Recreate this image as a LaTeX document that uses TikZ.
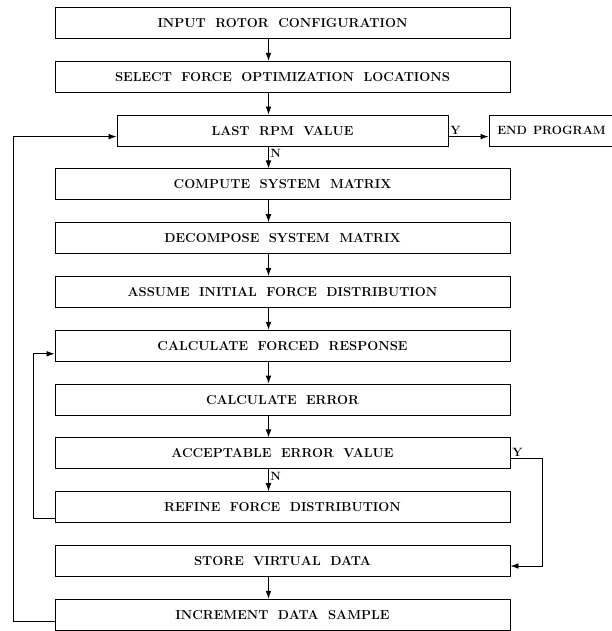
\documentclass[tikz,border=0pt]{standalone}
\usetikzlibrary{arrows.meta,positioning}
\newcommand\widespace{\spaceskip=9.5pt plus 2pt\relax}

\begin{document}
\begin{tikzpicture}[
  font=\fontsize{13}{15}\selectfont\bfseries\widespace,
  box/.style={draw, line width=1pt, minimum width=455pt, minimum height=31pt, inner sep=2pt},
  small/.style={box, minimum width=331pt},
  stop/.style={box, minimum width=125pt, inner sep=0pt},
  lbl/.style={font=\fontsize{12}{13}\selectfont\bfseries, inner sep=1.5pt},
  >={Latex[length=2.8mm,width=2mm]}, line width=0.8pt,
  node distance=21.8pt and 40pt]
\useasboundingbox (0,0) rectangle (612pt,-631pt);
\node[box] (inp) at (282.5pt,-23pt) {INPUT ROTOR CONFIGURATION};
\node[box, below=of inp] (sel) {SELECT FORCE OPTIMIZATION LOCATIONS};
\node[small, below=of sel] (rpm) {LAST RPM VALUE};
\node[stop, anchor=west] (end) at ([xshift=40pt]rpm.east) {\fontsize{12}{14}\selectfont\spaceskip=6pt\relax END PROGRAM};
\node[box, below=of rpm] (cmp) {COMPUTE SYSTEM MATRIX};
\node[box, below=of cmp] (dec) {DECOMPOSE SYSTEM MATRIX};
\node[box, below=of dec] (ini) {ASSUME INITIAL FORCE DISTRIBUTION};
\node[box, below=of ini] (frc) {CALCULATE FORCED RESPONSE};
\node[box, below=of frc] (err) {CALCULATE ERROR};
\node[box, below=of err] (acc) {ACCEPTABLE ERROR VALUE};
\node[box, below=of acc] (ref) {REFINE FORCE DISTRIBUTION};
\node[box, below=of ref] (sto) {STORE VIRTUAL DATA};
\node[box, below=of sto] (inc) {INCREMENT DATA SAMPLE};
% main column
\foreach \a/\b in {inp/sel, sel/rpm, cmp/dec, dec/ini, ini/frc, frc/err, err/acc, sto/inc}
  \draw[->] ([xshift=-14pt]\a.south) -- ([xshift=-14pt]\b.north);
\draw[->] ([xshift=-14pt]rpm.south) -- node[lbl, pos=0.3, right]{N} ([xshift=-14pt]cmp.north);
\draw[->] ([xshift=-14pt]acc.south) -- node[lbl, pos=0.3, right]{N} ([xshift=-14pt]ref.north);
% branches
\draw[->] ([yshift=-6pt]rpm.east) node[lbl, above right]{Y} -- ([yshift=-6pt]rpm.east -| end.west);
\draw[->] ([yshift=-5pt]acc.east) node[lbl, above right]{Y} -- ++(32pt,0) |- ([yshift=-5pt]sto.east);
% loops
\draw[->] ([yshift=-11pt]ref.west) -- ++(-21pt,0) |- ([yshift=-8pt]frc.west);
\draw[->] ([yshift=-7pt]inc.west) -- ++(-41pt,0) |- ([yshift=-6pt]rpm.west);
\end{tikzpicture}
\end{document}
